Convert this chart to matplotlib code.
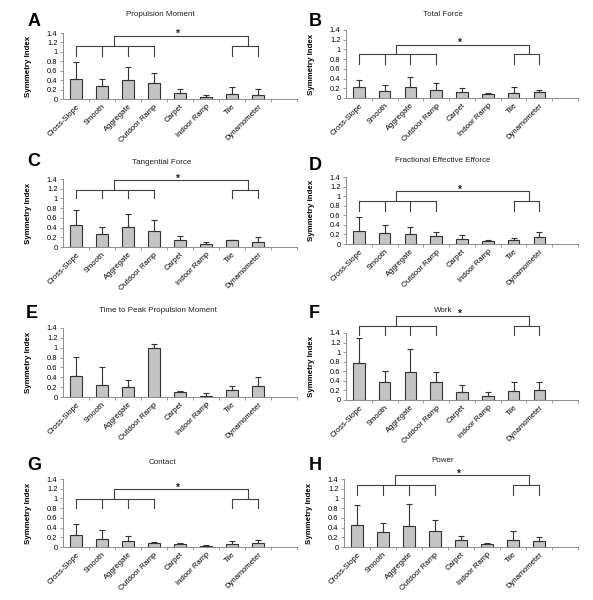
import matplotlib
matplotlib.use("Agg")
import matplotlib.pyplot as plt
from matplotlib.ticker import FixedLocator

plt.rcParams["font.family"] = ["Liberation Sans", "DejaVu Sans"]

categories = ["Cross-Slope", "Smooth", "Aggregate", "Outdoor Ramp",
              "Carpet", "Indoor Ramp", "Tile", "Dynamometer"]
yticks = [0, 0.2, 0.4, 0.6, 0.8, 1, 1.2, 1.4]
ytick_labels = ["0", "0.2", "0.4", "0.6", "0.8", "1", "1.2", "1.4"]

letters = ["A", "B", "C", "D", "E", "F", "G", "H"]
titles = ["Propulsion Moment", "Total Force", "Tangential Force",
          "Fractional Effective Efforce", "Time to Peak Propulsion Moment",
          "Work", "Contact", "Power"]

# mean symmetry index per surface
mean_a = [0.43, 0.27, 0.405, 0.335, 0.13, 0.045, 0.115, 0.085]
mean_b = [0.235, 0.14, 0.235, 0.17, 0.12, 0.075, 0.11, 0.12]
mean_c = [0.445, 0.275, 0.405, 0.335, 0.137, 0.055, 0.137, 0.11]
mean_d = [0.28, 0.24, 0.20, 0.175, 0.11, 0.055, 0.075, 0.155]
mean_e = [0.42, 0.25, 0.20, 0.99, 0.10, 0.03, 0.15, 0.225]
mean_f = [0.765, 0.38, 0.585, 0.37, 0.17, 0.09, 0.185, 0.20]
mean_g = [0.245, 0.165, 0.13, 0.075, 0.055, 0.03, 0.07, 0.09]
mean_h = [0.45, 0.30, 0.43, 0.33, 0.15, 0.055, 0.14, 0.125]

# upper error (SD)
sd_a = [0.35, 0.15, 0.27, 0.22, 0.08, 0.04, 0.15, 0.12]
sd_b = [0.145, 0.12, 0.205, 0.14, 0.08, 0.035, 0.12, 0.04]
sd_c = [0.325, 0.145, 0.275, 0.22, 0.09, 0.045, 0.0, 0.095]
sd_d = [0.28, 0.15, 0.16, 0.07, 0.085, 0.03, 0.045, 0.09]
sd_e = [0.39, 0.35, 0.135, 0.08, 0.03, 0.045, 0.075, 0.19]
sd_f = [0.535, 0.22, 0.475, 0.21, 0.14, 0.075, 0.185, 0.17]
sd_g = [0.22, 0.175, 0.105, 0.02, 0.035, 0.01, 0.06, 0.055]
sd_h = [0.415, 0.20, 0.45, 0.22, 0.085, 0.035, 0.18, 0.09]

means = [mean_a, mean_b, mean_c, mean_d, mean_e, mean_f, mean_g, mean_h]
sds = [sd_a, sd_b, sd_c, sd_d, sd_e, sd_f, sd_g, sd_h]

# significance brackets: (group line, drop end, top line); None = no bracket
brackets = [(1.12, 0.92, 1.34), (0.90, 0.70, 1.10), (1.18, 1.00, 1.38),
            (0.89, 0.70, 1.10), None, (1.55, 1.36, 1.76),
            (0.99, 0.80, 1.19), (1.275, 1.08, 1.48)]
group_left = [0, 1, 2, 3]
group_right = [6, 7]

W, H = 593, 600
# axes boxes in pixels: left, right, top, bottom
boxes = [(63, 297, 33, 99), (346, 578, 30, 98),
         (63, 297, 179, 247), (346, 578, 177, 244),
         (63, 297, 328, 397), (346, 578, 333, 400),
         (63, 297, 479, 547), (344, 578, 479, 547)]
title_pos = [(160, 15), (443, 15), (162, 162), (443, 161),
             (158, 311), (443, 310), (162, 463), (443, 460)]
letter_pos = [(28, 21), (309, 21), (27, 161), (309, 166),
              (26, 314), (309, 314), (27, 466), (309, 465)]

fig = plt.figure(figsize=(W / 100, H / 100), dpi=100)
grey = "#8c8c8c"
dark = "#333333"

for i in range(8):
    l, r, t, b = boxes[i]
    ax = fig.add_axes([l / W, 1 - b / H, (r - l) / W, (b - t) / H])
    x = list(range(len(categories)))
    ax.bar(x, means[i], width=0.45, color="#c4c4c4", edgecolor=dark,
           linewidth=0.8, zorder=2)
    ax.errorbar(x, means[i], yerr=[[0] * 8, sds[i]], fmt="none",
                ecolor=dark, elinewidth=0.8, capsize=2.4, capthick=0.8,
                zorder=3)
    ax.set_xlim(-0.5, 8.5)
    ax.set_ylim(0, 1.4)
    ax.set_yticks(yticks)
    ax.set_yticklabels(ytick_labels, fontsize=5.4)
    ax.set_xticks(x)
    ax.set_xticklabels(categories, rotation=45, ha="right",
                       rotation_mode="anchor", fontsize=5.5)
    ax.xaxis.set_minor_locator(FixedLocator([k + 0.5 for k in range(9)]))
    ax.tick_params(axis="x", which="major", length=0, pad=3)
    ax.tick_params(axis="x", which="minor", length=2.2, color=grey,
                   direction="out", width=0.6)
    ax.tick_params(axis="y", length=2, color=grey, width=0.6, pad=2)
    for side in ["top", "right"]:
        ax.spines[side].set_visible(False)
    for side in ["left", "bottom"]:
        ax.spines[side].set_color(grey)
        ax.spines[side].set_linewidth(0.7)
    ax.set_ylabel("Symmetry Index", fontsize=5.7, fontweight="bold")
    ax.yaxis.set_label_coords(-31 / (r - l), 0.5)

    br = brackets[i]
    if br is not None:
        gy, dy, ty = br
        kw = dict(color="#404040", lw=0.8, clip_on=False, zorder=4)
        ax.plot([group_left[0], group_left[-1]], [gy, gy], **kw)
        for g in group_left:
            ax.plot([g, g], [dy, gy], **kw)
        ax.plot([group_right[0], group_right[-1]], [gy, gy], **kw)
        for g in group_right:
            ax.plot([g, g], [dy, gy], **kw)
        ax.plot([1.45, 1.45, 6.6, 6.6], [gy, ty, ty, gy], **kw)
        ax.text(3.9, ty - 0.07, "*", fontsize=7.5, fontweight="bold",
                ha="center", va="bottom", color="#202020", clip_on=False)

    tx, tyy = title_pos[i]
    fig.text(tx / W, 1 - tyy / H, titles[i], fontsize=5.8, ha="center",
             va="center", color="#202020")
    lx, ly = letter_pos[i]
    fig.text(lx / W, 1 - ly / H, letters[i], fontsize=13,
             fontweight="bold", ha="left", va="center")

fig.savefig("out.png", dpi=100, facecolor="white")
